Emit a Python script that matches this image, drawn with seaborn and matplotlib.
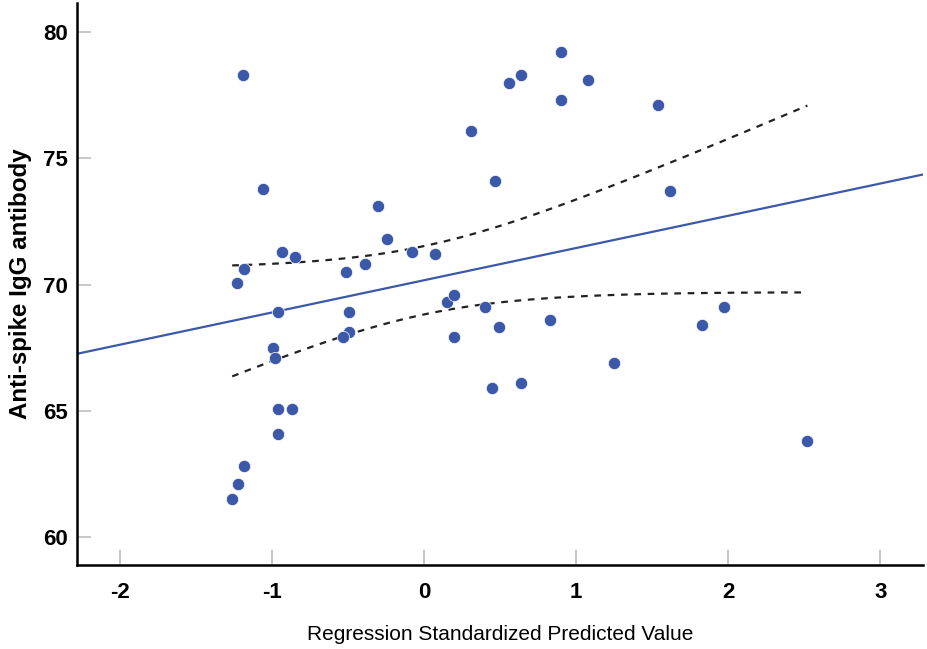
import numpy as np
import pandas as pd
import matplotlib
matplotlib.use("Agg")
import matplotlib.pyplot as plt
import seaborn as sns

##########  values
pred_std = [-1.26, -1.22, -1.18, -1.19, -1.23, -1.18, -1.06, -0.99, -0.98, -0.96,
            -0.87, -0.96, -0.96, -0.93, -0.85, -0.51, -0.39, -0.30, -0.24, -0.08,
            0.07, -0.49, -0.49, -0.53, 0.15, 0.20, 0.20, 0.40, 0.49, 0.45,
            0.64, 0.83, 0.31, 0.47, 0.56, 0.64, 0.90, 0.90, 1.08, 1.25,
            1.54, 1.62, 1.83, 1.97, 2.52]
igg = [61.5, 62.1, 62.8, 78.3, 70.06, 70.6, 73.8, 67.5, 67.1, 65.07,
       65.07, 64.08, 68.9, 71.3, 71.1, 70.5, 70.8, 73.1, 71.8, 71.3,
       71.2, 68.9, 68.1, 67.9, 69.3, 69.6, 67.9, 69.1, 68.3, 65.9,
       66.1, 68.6, 76.1, 74.1, 78.0, 78.3, 79.2, 77.3, 78.1, 66.9,
       77.1, 73.7, 68.4, 69.1, 63.8]

x_ticks = [-2, -1, 0, 1, 2, 3]
y_ticks = [60, 65, 70, 75, 80]

df = pd.DataFrame({"pred": pred_std, "igg": igg})

# linear fit + 95% CI of the mean
slope, intercept = np.polyfit(df["pred"], df["igg"], 1)
n = len(df)
resid = df["igg"] - (intercept + slope * df["pred"])
s = np.sqrt((resid ** 2).sum() / (n - 2))
xbar = df["pred"].mean()
sxx = ((df["pred"] - xbar) ** 2).sum()
t_val = 2.017

x_line = np.linspace(-2.28, 3.28, 50)
x_ci = np.linspace(df["pred"].min(), df["pred"].max(), 100)
fit_ci = intercept + slope * x_ci
half = t_val * s * np.sqrt(1 / n + (x_ci - xbar) ** 2 / sxx)

sns.set_theme(style="white")
plt.rcParams['font.family'] = ['Liberation Sans', 'DejaVu Sans']

blue = "#3C58A8"
fig = plt.figure(figsize=(9.27, 6.49), dpi=100)
ax = fig.add_axes([0.0831, 0.1294, 0.9126, 0.866])

sns.lineplot(x=x_line, y=intercept + slope * x_line, color=blue, lw=1.6, ax=ax)
ax.plot(x_ci, fit_ci + half, color="#222222", lw=1.6, ls=(0, (3, 3)))
ax.plot(x_ci, fit_ci - half, color="#222222", lw=1.6, ls=(0, (3, 3)))
sns.scatterplot(data=df, x="pred", y="igg", color=blue, s=78,
                edgecolor="white", linewidth=0.5, ax=ax, zorder=3)

ax.set_xlim(-2.28, 3.28)
ax.set_ylim(58.88, 81.16)
ax.set_xticks(x_ticks)
ax.set_yticks(y_ticks)
ax.set_xticklabels([str(v) for v in x_ticks], fontweight="bold", fontsize=16)
ax.set_yticklabels([str(v) for v in y_ticks], fontweight="bold", fontsize=16)
ax.tick_params(axis="x", bottom=True, direction="in", length=11, width=1.3, color="#C4C4C4", pad=12, labelcolor="black")
ax.tick_params(axis="y", left=True, direction="in", length=10, width=1.3, color="#C4C4C4", pad=6.5, labelcolor="black")

for side in ["top", "right"]:
    ax.spines[side].set_visible(False)
for side in ["left", "bottom"]:
    ax.spines[side].set_color("black")
    ax.spines[side].set_linewidth(1.8)

ax.set_xlabel("Regression Standardized Predicted Value", fontsize=15, color="black", labelpad=16)
ax.set_ylabel("Anti-spike IgG antibody", fontsize=17.4, fontweight="bold", color="black", labelpad=8)
ax.grid(False)

fig.savefig("out.png", dpi=100)
